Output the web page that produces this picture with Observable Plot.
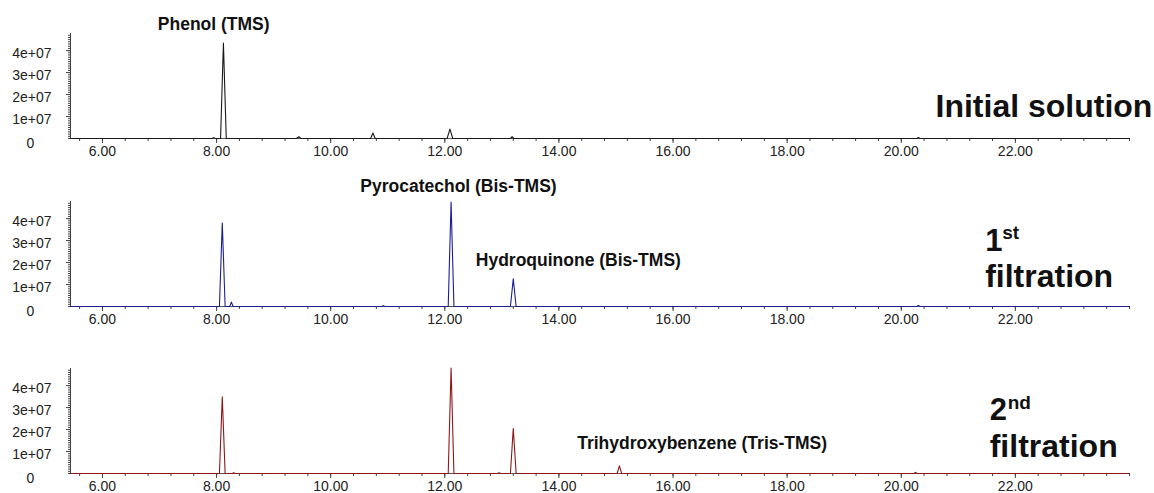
<!DOCTYPE html>
<html>
<head>
<meta charset="utf-8">
<script src="https://cdn.jsdelivr.net/npm/d3@7"></script>
<script src="https://cdn.jsdelivr.net/npm/@observablehq/plot@0.6"></script>
<style>
  html, body { margin: 0; padding: 0; background: #fff; overflow: hidden; }
  #wrap { position: relative; width: 1154px; height: 493px; }
  .panel { position: absolute; left: 0; }
</style>
</head>
<body>
<div id="wrap"></div>
<script>
// ---- Data (retention time, min; abundance) ----
const initialTime   = [5.44, 7.92, 7.95, 7.98, 8.07, 8.12, 8.17, 9.40, 9.44, 9.48, 10.70, 10.74, 10.78, 12.04, 12.09, 12.14, 13.15, 13.18, 13.21, 20.27, 20.30, 20.33, 24.0];
const initialSignal = [0, 0, 0.04e7, 0, 0, 4.34e7, 0, 0, 0.08e7, 0, 0, 0.25e7, 0, 0, 0.43e7, 0, 0, 0.08e7, 0, 0, 0.05e7, 0, 0];

const firstTime   = [5.44, 8.05, 8.10, 8.15, 8.23, 8.26, 8.29, 10.89, 10.92, 10.95, 12.06, 12.11, 12.16, 13.15, 13.20, 13.25, 20.27, 20.30, 20.33, 24.0];
const firstSignal = [0, 0, 3.8e7, 0, 0, 0.2e7, 0, 0, 0.04e7, 0, 0, 4.76e7, 0, 0, 1.26e7, 0, 0, 0.05e7, 0, 0];

const secondTime   = [5.44, 8.05, 8.10, 8.15, 8.27, 8.30, 8.33, 12.06, 12.11, 12.16, 12.92, 12.95, 12.98, 13.15, 13.20, 13.25, 15.02, 15.06, 15.10, 20.22, 20.25, 20.28, 24.0];
const secondSignal = [0, 0, 3.49e7, 0, 0, 0.03e7, 0, 0, 4.8e7, 0, 0, 0.03e7, 0, 0, 2.05e7, 0, 0, 0.35e7, 0, 0, 0.05e7, 0, 0];

// ---- Tick labels ----
const xTickValues = [6, 8, 10, 12, 14, 16, 18, 20, 22];
const xTickLabels = ["6.00", "8.00", "10.00", "12.00", "14.00", "16.00", "18.00", "20.00", "22.00"];
const yTickValues = [0, 1e7, 2e7, 3e7, 4e7];
const yTickLabels = ["0", "1e+07", "2e+07", "3e+07", "4e+07"];

// ---- Annotations ----
const peakLabels   = ["Phenol (TMS)", "Pyrocatechol (Bis-TMS)", "Hydroquinone (Bis-TMS)", "Trihydroxybenzene (Tris-TMS)"];
const panelLabels  = ["Initial solution", "1", "st", "filtration", "2", "nd", "filtration"];

const xDomain = [5.44, 24.0];
const yDomain = [0, 4.78e7];
const xMinor = d3.range(5.6, 24.001, 0.4);
const yMinor = d3.range(0, 4.75e7, 1e6);
const xLabelMap = new Map(xTickValues.map((v, i) => [v, xTickLabels[i]]));
const yLabelMap = new Map(yTickValues.map((v, i) => [v, yTickLabels[i]]));

const FONT = "'Liberation Sans', Arial, sans-serif";

function panel(times, signal, color, extraMarks) {
  const rows = times.map((t, i) => ({t, v: signal[i]}));
  return Plot.plot({
    width: 1154,
    height: 165,
    marginLeft: 70,
    marginRight: 25,
    marginTop: 33,
    marginBottom: 27,
    style: {fontFamily: FONT, fontSize: "14px", color: "#222", background: "transparent", overflow: "visible"},
    x: {domain: xDomain},
    y: {domain: yDomain},
    marks: [
      Plot.axisX({ticks: xMinor, tickSize: 3, tickFormat: () => "", stroke: "#444", label: null}),
      Plot.axisX({ticks: xTickValues, tickSize: 5, tickPadding: 3, tickFormat: d => xLabelMap.get(d), fontSize: 14, stroke: "#444", fill: "#222", label: null}),
      Plot.axisY({ticks: yMinor, tickSize: 2, tickFormat: () => "", stroke: "#444", label: null}),
      Plot.axisY({ticks: yTickValues.slice(1), tickSize: 4, tickFormat: () => "", stroke: "#444", label: null}),
      Plot.text(yTickValues.slice(1), {x: () => xDomain[0], y: d => d, text: d => yLabelMap.get(d), dx: -19, dy: 3, textAnchor: "end", lineAnchor: "middle", fontSize: 14, fill: "#222"}),
      Plot.text([yTickLabels[0]], {x: () => xDomain[0], y: () => 0, dx: -40, dy: 5, fontSize: 14, fill: "#222", textAnchor: "middle", lineAnchor: "middle"}),
      Plot.ruleY([0], {stroke: "#555", strokeWidth: 1}),
      Plot.ruleX([xDomain[0]], {stroke: "#444", strokeWidth: 1}),
      Plot.line(rows, {x: "t", y: "v", stroke: color, strokeWidth: 1.1}),
      ...extraMarks
    ]
  });
}

const bold = {fontWeight: "bold", fill: "#111", fontFamily: FONT};

const p1 = panel(initialTime, initialSignal, "#1a1a1a", [
  Plot.text([peakLabels[0]], {x: () => 7.95, y: () => 5.2e7, fontSize: 17.5, textAnchor: "middle", ...bold}),
  Plot.text([panelLabels[0]], {x: () => 20.6, y: () => 1.46e7, fontSize: 32, textAnchor: "start", ...bold})
]);

const p2 = panel(firstTime, firstSignal, "#1e1e94", [
  Plot.text([peakLabels[1]], {x: () => 12.24, y: () => 5.48e7, fontSize: 17.5, textAnchor: "middle", ...bold}),
  Plot.text([peakLabels[2]], {x: () => 14.34, y: () => 2.09e7, fontSize: 17.5, textAnchor: "middle", ...bold}),
  Plot.text([panelLabels[1]], {x: () => 21.47, y: () => 3.0e7, fontSize: 31, textAnchor: "start", ...bold}),
  Plot.text([panelLabels[2]], {x: () => 21.47, y: () => 3.0e7, dx: 17, dy: -8, fontSize: 19, textAnchor: "start", ...bold}),
  Plot.text([panelLabels[3]], {x: () => 21.47, y: () => 1.37e7, fontSize: 32, textAnchor: "start", ...bold})
]);

const p3 = panel(secondTime, secondSignal, "#8e1818", [
  Plot.text([peakLabels[3]], {x: () => 16.51, y: () => 1.38e7, fontSize: 17.5, textAnchor: "middle", ...bold}),
  Plot.text([panelLabels[4]], {x: () => 21.55, y: () => 2.87e7, fontSize: 31, textAnchor: "start", ...bold}),
  Plot.text([panelLabels[5]], {x: () => 21.55, y: () => 2.87e7, dx: 18, dy: -8, fontSize: 19, textAnchor: "start", ...bold}),
  Plot.text([panelLabels[6]], {x: () => 21.55, y: () => 1.21e7, fontSize: 32, textAnchor: "start", ...bold})
]);

const wrap = document.getElementById("wrap");
[[p1, 0], [p2, 168], [p3, 335]].forEach(([svg, top]) => {
  const d = document.createElement("div");
  d.className = "panel";
  d.style.top = top + "px";
  d.appendChild(svg);
  wrap.appendChild(d);
});
</script>
</body>
</html>
